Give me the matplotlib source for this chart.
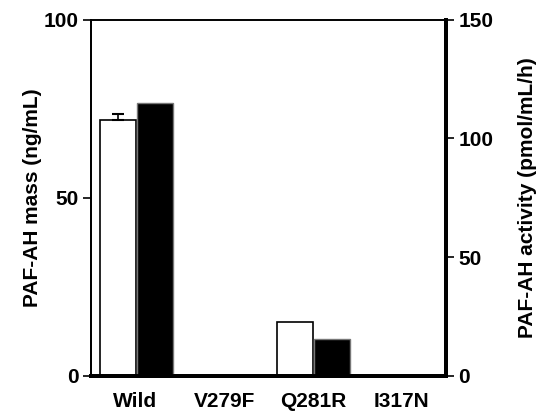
import numpy as np
import matplotlib.pyplot as plt

plt.rcParams['font.family'] = ['Liberation Sans', 'DejaVu Sans']
plt.rcParams['font.weight'] = 'bold'

# data
variants = ['Wild', 'V279F', 'Q281R', 'I317N']
mass = [72, 0, 15, 0]          # ng/mL (left axis)
mass_err = [1.6, 0, 0, 0]
activity = [115, 0, 15.5, 0]   # pmol/mL/h (right axis)

fig = plt.figure(figsize=(5.39, 4.13), dpi=100)
ax = fig.add_axes([0.169, 0.09, 0.658, 0.862])
ax2 = ax.twinx()

x = np.arange(len(variants))
w = 0.41

ax.bar(x - 0.2, mass, w, color='white', edgecolor='black', linewidth=1.2, zorder=2)
ax.errorbar(x[:1] - 0.2, mass[:1], yerr=[[0], mass_err[:1]], fmt='none',
            ecolor='black', capsize=4, elinewidth=1.2, capthick=1.5, zorder=3)
ax2.bar(x + 0.22, activity, w, color='black', edgecolor='#777777', linewidth=1, zorder=2)

ax.set_xlim(-0.5, 3.5)
ax.set_ylim(0, 100)
ax2.set_ylim(0, 150)
ax.set_yticks([0, 50, 100])
ax2.set_yticks([0, 50, 100, 150])
ax.set_xticks(x)
ax.set_xticklabels(variants, fontsize=15, fontweight='bold')
ax.tick_params(axis='x', length=0, pad=12)
ax.tick_params(axis='y', length=6, width=1.2, labelsize=15, pad=3)
ax2.tick_params(axis='y', length=6, width=1.2, labelsize=15, pad=3)

ax.set_ylabel('PAF-AH mass (ng/mL)', fontsize=15, fontweight='bold', labelpad=1)
ax2.set_ylabel('PAF-AH activity (pmol/mL/h)', fontsize=15, fontweight='bold', labelpad=18)

for a in (ax, ax2):
    a.spines['left'].set_linewidth(1.3)
    a.spines['top'].set_linewidth(1.2)
    a.spines['right'].set_linewidth(2.8)
    a.spines['bottom'].set_linewidth(2.8)

fig.savefig('out.png', dpi=100)
